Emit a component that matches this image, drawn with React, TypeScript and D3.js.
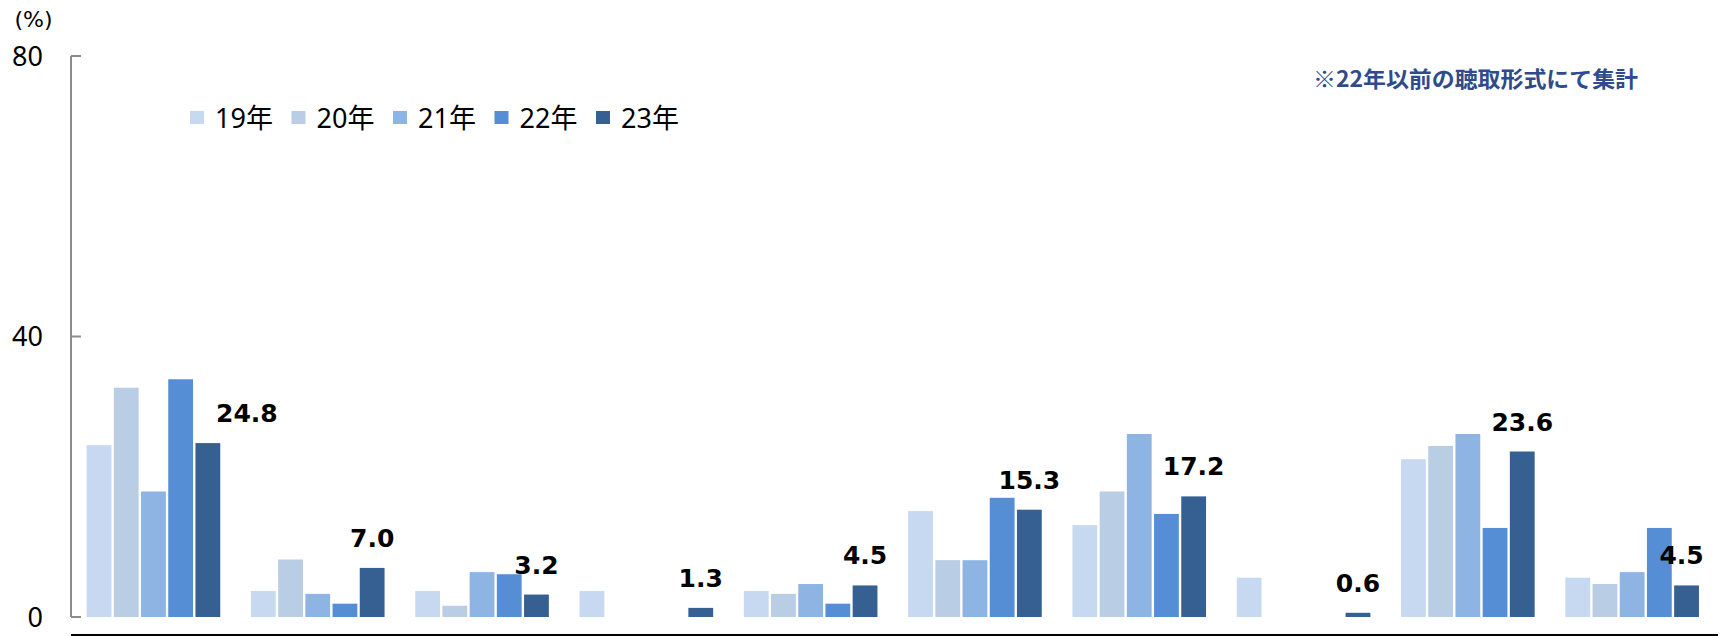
import React from "react";
import * as d3 from "d3";

const categories = ["1", "2", "3", "4", "5", "6", "7", "8", "9", "10"];
const seriesNames = ["19年", "20年", "21年", "22年", "23年"];
const y19: (number | null)[] = [24.5, 3.7, 3.7, 3.7, 3.7, 15.1, 13.1, 5.6, 22.5, 5.6];
const y20: (number | null)[] = [32.7, 8.2, 1.6, null, 3.3, 8.1, 17.9, null, 24.4, 4.7];
const y21: (number | null)[] = [17.9, 3.3, 6.4, null, 4.7, 8.1, 26.1, null, 26.1, 6.4];
const y22: (number | null)[] = [33.9, 1.9, 6.1, null, 1.9, 17.0, 14.7, null, 12.7, 12.7];
const y23: (number | null)[] = [24.8, 7.0, 3.2, 1.3, 4.5, 15.3, 17.2, 0.6, 23.6, 4.5];
const yTicks = [0, 40, 80];
const colors = ["#c6d9f1", "#b9cde5", "#8eb4e3", "#558ed5", "#376092"];
const note = "※22年以前の聴取形式にて集計";

const allSeries = [y19, y20, y21, y22, y23];

export default function App() {
  const W = 1722;
  const H = 636;
  const y = d3.scaleLinear().domain([0, 80]).range([617, 56]);
  const x0 = d3.scaleBand<string>().domain(categories).range([71.3, 1714.3]).padding(0);
  const x1 = d3
    .scaleBand<string>()
    .domain(seriesNames)
    .range([0, x0.bandwidth()])
    .paddingInner(0)
    .paddingOuter(0.52);
  const gap = 2.4;
  const sans = "'DejaVu Sans', Verdana, sans-serif";
  const jp = "'Noto Sans', 'Noto Sans CJK JP', sans-serif";
  const lastIdx = categories.length - 1;

  return (
    <svg
      width={W}
      height={H}
      style={{ position: "absolute", left: 0, top: 0, background: "#fff" }}
    >
      {/* (%) */}
      <text x={33.5} y={27} textAnchor="middle" fontFamily={sans} fontSize={22} fill="#000">
        (%)
      </text>
      {/* y axis */}
      <line x1={71} x2={71} y1={y(80)} y2={y(0)} stroke="#8c8c8c" strokeWidth={2} />
      {yTicks.map((t) => (
        <g key={t}>
          <line x1={71} x2={81} y1={y(t)} y2={y(t)} stroke="#8c8c8c" strokeWidth={2} />
          <text
            x={43}
            y={y(t)}
            dy="0.36em"
            textAnchor="end"
            fontFamily={jp}
            fontSize={27}
            fill="#000"
          >
            {t}
          </text>
        </g>
      ))}
      {/* bottom line */}
      <line x1={71} x2={1718} y1={635} y2={635} stroke="#000" strokeWidth={2} />
      {/* bars */}
      {categories.map((c, ci) => (
        <g key={c} transform={`translate(${x0(c)},0)`}>
          {allSeries.map((s, si) => {
            const v = s[ci];
            if (v == null) return null;
            const bx = (x1(seriesNames[si]) as number) + gap / 2;
            return (
              <rect
                key={si}
                x={bx}
                y={y(v)}
                width={x1.bandwidth() - gap}
                height={y(0) - y(v)}
                fill={colors[si]}
              />
            );
          })}
          {(() => {
            const v = y23[ci];
            if (v == null) return null;
            const shift = ci === 0 ? 39 : ci === lastIdx ? -5 : 0;
            const cx = (x1(seriesNames[4]) as number) + x1.bandwidth() / 2 + shift;
            return (
              <text
                x={cx}
                y={y(v) - 21}
                textAnchor="middle"
                fontFamily={sans}
                fontWeight="bold"
                fontSize={25}
                fill="#000"
              >
                {v.toFixed(1)}
              </text>
            );
          })()}
        </g>
      ))}
      {/* legend */}
      {seriesNames.map((n, i) => {
        const lx = 190 + i * 101.5;
        return (
          <g key={n}>
            <rect x={lx} y={111} width={14} height={13} fill={colors[i]} />
            <text x={lx + 25} y={128} fontFamily={jp} fontSize={27} fill="#000">
              {n}
            </text>
          </g>
        );
      })}
      {/* note */}
      <text
        x={1313}
        y={87}
        fontFamily="'Noto Sans CJK JP', sans-serif"
        fontWeight="bold"
        fontSize={22}
        fill="#2f4b8c"
        textLength={325}
        lengthAdjust="spacingAndGlyphs"
      >
        {note}
      </text>
    </svg>
  );
}
